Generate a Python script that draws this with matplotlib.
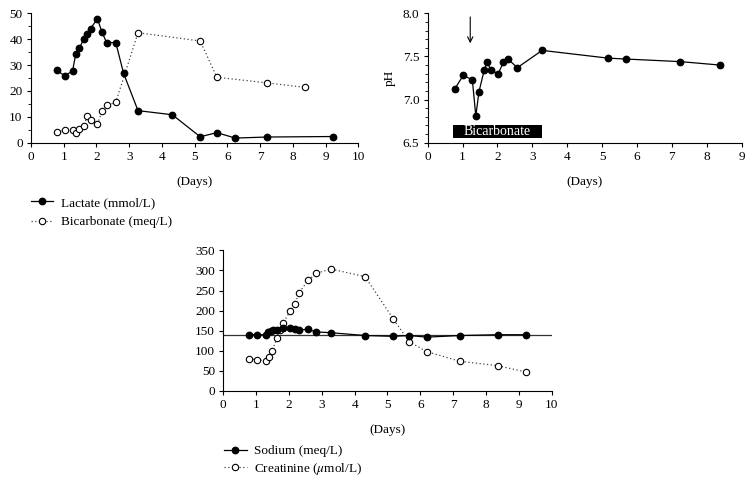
import matplotlib
matplotlib.use("Agg")
import matplotlib.pyplot as plt
from matplotlib.lines import Line2D
from matplotlib.ticker import MultipleLocator

plt.rcParams['font.family'] = ['Liberation Serif', 'DejaVu Serif']
plt.rcParams['font.size'] = 9.5
plt.rcParams['mathtext.fontset'] = 'stix'

# ---- Data ----
lac_days = [0.78, 1.03, 1.27, 1.37, 1.48, 1.62, 1.71, 1.82, 2.03, 2.17, 2.31, 2.59, 2.83,
            3.27, 4.32, 5.17, 5.68, 6.24, 7.22, 9.23]
lactate = [28.0, 25.9, 27.7, 34.4, 36.7, 40.1, 41.9, 44.1, 47.9, 42.7, 38.7, 38.7, 26.8,
           12.4, 10.8, 2.3, 3.9, 1.8, 2.2, 2.4]

bic_days = [0.78, 1.03, 1.27, 1.37, 1.48, 1.62, 1.71, 1.82, 2.03, 2.17, 2.31, 2.59,
            3.27, 5.17, 5.68, 7.22, 8.37]
bicarbonate = [4.3, 4.8, 4.9, 3.6, 5.4, 6.3, 10.3, 8.8, 7.1, 12.1, 14.4, 15.6,
               42.5, 39.3, 25.3, 23.1, 21.4]

ph_days = [0.77, 1.02, 1.28, 1.38, 1.47, 1.62, 1.70, 1.82, 2.02, 2.17, 2.30, 2.57,
           3.28, 5.18, 5.68, 7.24, 8.38]
ph = [7.12, 7.28, 7.23, 6.81, 7.09, 7.34, 7.43, 7.34, 7.30, 7.43, 7.47, 7.37,
      7.57, 7.48, 7.47, 7.44, 7.40]
bicarb_start, bicarb_end = 0.72, 3.27
arrow_day = 1.22

na_days = [0.79, 1.04, 1.29, 1.37, 1.44, 1.52, 1.64, 1.83, 2.03, 2.18, 2.31, 2.58, 2.83,
           3.28, 4.32, 5.18, 5.66, 6.20, 7.21, 8.36, 9.21]
sodium = [140, 140, 140, 146, 150, 152, 152.5, 157, 157, 153, 152.5, 153, 147,
          145, 138, 136, 138, 134, 138, 140, 140]
sodium_ref = 140

cr_days = [0.79, 1.04, 1.29, 1.39, 1.48, 1.64, 1.73, 1.83, 2.03, 2.18, 2.31, 2.58, 2.83,
           3.28, 4.32, 5.18, 5.66, 6.20, 7.21, 8.36, 9.21]
creatinine = [79.6, 78, 74.6, 83.7, 99.5, 132, 152.6, 170, 198, 216, 244.6, 275, 292.7,
              303.5, 284.4, 179, 122.7, 97.8, 73.8, 63, 47.3]

fig = plt.figure(figsize=(7.52, 4.82), dpi=100)

solid_kw = dict(color='black', lw=0.9, marker='o', ms=4.6, mfc='black', mec='black')
dot_kw = dict(color='#444444', lw=0.9, ls=(0, (1, 2)), marker='o', ms=4.6,
              mfc='white', mec='black', mew=0.8)

FS = 9.5


def style(ax):
    for s in ['top', 'right']:
        ax.spines[s].set_visible(False)
    for s in ['left', 'bottom']:
        ax.spines[s].set_linewidth(0.8)
    ax.tick_params(direction='out', length=3, width=0.8, labelsize=FS, pad=3)
    ax.tick_params(which='minor', direction='out', length=2, width=0.6)


leg_kw = dict(loc='upper left', frameon=False, fontsize=FS, numpoints=1,
              handlelength=1.7, handletextpad=0.6, borderpad=0,
              borderaxespad=0)

# Top-left
ax1 = fig.add_axes([0.0412, 0.7039, 0.4352, 0.2685])
ax1.plot(bic_days, bicarbonate, **dot_kw)
ax1.plot(lac_days, lactate, **solid_kw)
ax1.set_xlim(0, 10)
ax1.set_ylim(0, 50)
ax1.set_xticks(range(0, 11))
ax1.set_yticks(range(0, 51, 10))
ax1.yaxis.set_minor_locator(MultipleLocator(5))
ax1.set_xlabel('(Days)', fontsize=FS, labelpad=9)
style(ax1)
h1 = [Line2D([], [], **solid_kw), Line2D([], [], **dot_kw)]
fig.legend(h1, ['Lactate (mmol/L)', 'Bicarbonate (meq/L)'],
           bbox_to_anchor=(0.041, 0.592), labelspacing=0.55, **leg_kw)

# Top-right pH
ax2 = fig.add_axes([0.5687, 0.7039, 0.4176, 0.2685])
ax2.plot(ph_days, ph, **solid_kw)
ax2.set_xlim(0, 9)
ax2.set_ylim(6.5, 8.0)
ax2.set_xticks(range(0, 10))
ax2.set_yticks([6.5, 7.0, 7.5, 8.0])
ax2.yaxis.set_minor_locator(MultipleLocator(0.1))
ax2.set_ylabel('pH', fontsize=FS, labelpad=5)
ax2.set_xlabel('(Days)', fontsize=FS, labelpad=9)
style(ax2)
ax2.fill_between([bicarb_start, bicarb_end], 6.56, 6.71, color='black', lw=0)
ax2.text((bicarb_start + bicarb_end) / 2, 6.633, 'Bicarbonate', color='white',
         ha='center', va='center', fontsize=10)
ax2.annotate('', xy=(arrow_day, 7.62), xytext=(arrow_day, 7.99),
             arrowprops=dict(arrowstyle='->', color='black', lw=0.8))

# Bottom
ax3 = fig.add_axes([0.2969, 0.1888, 0.4367, 0.2919])
ax3.axhline(sodium_ref, color='#333333', lw=0.9)
ax3.plot(cr_days, creatinine, **dot_kw)
ax3.plot(na_days, sodium, **solid_kw)
ax3.set_xlim(0, 10)
ax3.set_ylim(0, 350)
ax3.set_xticks(range(0, 11))
ax3.set_yticks(range(0, 351, 50))
ax3.set_xlabel('(Days)', fontsize=FS, labelpad=9)
style(ax3)
fig.legend(h1, ['Sodium (meq/L)', 'Creatinine ($\\mathit{\\mu}$mol/L)'],
           bbox_to_anchor=(0.298, 0.077), labelspacing=0.28, **leg_kw)

fig.savefig('out.png', dpi=100)
